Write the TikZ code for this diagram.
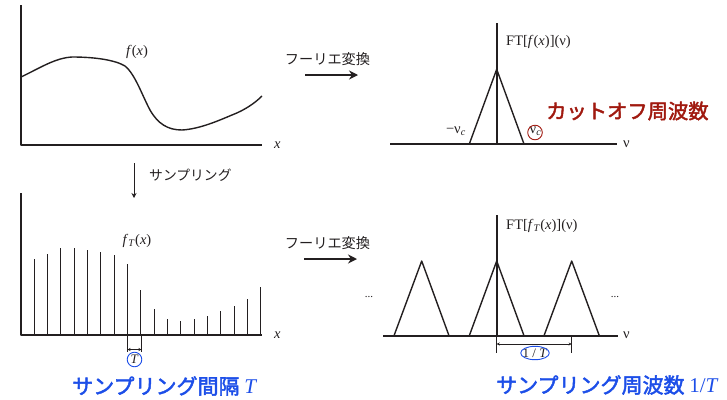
\documentclass[tikz,border=0pt]{standalone}
\usepackage{fontspec}
\setmainfont{Liberation Serif}
\newfontfamily\jp{Noto Sans CJK JP}
\newfontfamily\jpb[FakeBold=2.2]{Noto Sans CJK JP}
\usetikzlibrary{arrows.meta}
\definecolor{ink}{RGB}{35,31,32}
\definecolor{hiblue}{RGB}{28,78,232}
\definecolor{hired}{RGB}{160,25,15}
\tikzset{
  axis/.style={draw=ink, line width=1.6pt},
  curve/.style={draw=ink, line width=1.4pt},
  stem/.style={draw=ink, line width=1.3pt},
  tri/.style={draw=ink, line width=1.4pt},
  dim/.style={draw=ink, line width=0.8pt},
  dimarrow/.style={draw=ink, line width=0.8pt, {Stealth[length=3pt,width=3pt]}-{Stealth[length=3pt,width=3pt]}},
  ftarrow/.style={draw=ink, line width=1.8pt, -{Stealth[length=9pt,width=9pt]}},
  lbl/.style={text=ink, font=\fontsize{14.5}{17}\selectfont, inner sep=0pt},
  jlbl/.style={text=ink, font=\jp\fontsize{14.2}{17}\selectfont, inner sep=0pt},
  bigblue/.style={text=hiblue, font=\jpb\fontsize{21}{25}\selectfont, inner sep=0pt},
  bigred/.style={text=hired, font=\jpb\fontsize{20.3}{24}\selectfont, inner sep=0pt}
}
\begin{document}
\begin{tikzpicture}[x=1pt,y=-1pt, line join=round]
\useasboundingbox (0,0) rectangle (727,399);

% ---- top left: f(x)
\draw[axis] (21,5) -- (21,145) -- (262,145);
\node[lbl, anchor=west] (xa) at (274,145) {\textit{x}};
\draw[curve] (21,77) .. controls (40,68) and (55,58) .. (72,57)
  .. controls (95,57) and (115,60) .. (125,66)
  .. controls (135,74) and (142,95) .. (150,110)
  .. controls (158,124) and (168,130) .. (182,130)
  .. controls (200,129) and (220,120) .. (232,115)
  .. controls (245,110) and (255,103) .. (262,96);
\node[lbl] (fx) at (137,52) {\textit{f}(\textit{x})};

% ---- sampling arrow
\coordinate (sa) at (134,163);
\coordinate (sb) at (134,198);
\draw[draw=ink, line width=0.9pt, -{Stealth[length=5pt,width=5pt]}] (sa) -- (sb);
\node[jlbl, anchor=west, font=\jp\fontsize{13.8}{16}\selectfont] (samp) at (149,175) {サンプリング};

% ---- bottom left: f_T(x)
\draw[axis] (21,193) -- (21,335) -- (262,335);
\node[lbl, anchor=west] (xb) at (274,335) {\textit{x}};
\foreach \i/\t in {1/259.3,2/253.7,3/248.3,4/248.3,5/250,6/251.7,7/255,8/264.3,9/290,10/309.3,11/319.3,12/321.3,13/319.3,14/316,15/311,16/306,17/299,18/287.3}
  \draw[stem] ({floor(21+13.333*\i)+0.5},335) -- ({floor(21+13.333*\i)+0.5},\t);
\draw[stem] (21,335) -- (21,245);
\node[lbl] (fTx) at (137,241) {\textit{f}\textsubscript{\textit{T}}(\textit{x})};
% T bracket
\coordinate (ta) at (127.5,335);
\coordinate (tb) at (141.5,335);
\draw[dim] (ta) -- ++(0,17);
\draw[dim] (tb) -- ++(0,17);
\draw[dimarrow] (127.5,349.5) -- (141.5,349.5);
\node[lbl, font=\fontsize{13}{15}\selectfont] (Tl) at (134.5,359.5) {\textit{T}};
\draw[hiblue, line width=0.9pt] (134.5,359.5) circle (7.3);
\node[bigblue, anchor=west] (sint) at (72,386) {サンプリング間隔 {\fontspec{Liberation Serif}\itshape T}};

% ---- top right: spectrum
\coordinate (fa1) at (305,75);
\coordinate (fb1) at (358,75);
\draw[ftarrow] (fa1) -- (fb1);
\node[jlbl] (ft1) at (327.5,59) {フーリエ変換};
\draw[axis] (390,144) -- (617,144);
\draw[axis] (496.7,23) -- (496.7,144);
\node[lbl, anchor=west] (nu1) at (623,144) {ν};
\draw[tri] (469.3,144) -- (496.7,69.3) -- (524,144);
\node[lbl, anchor=west] (FT1) at (506,42) {FT[\textit{f}(\textit{x})](ν)};
\node[lbl, anchor=east] (mnc) at (466,131) {−ν\textsubscript{\textit{c}}};
\node[lbl] (nc) at (535.5,131) {ν\textsubscript{\textit{c}}};
\draw[hired, line width=0.9pt] (535,132.5) circle (7.3);
\node[bigred, anchor=west] (cut) at (546,111) {カットオフ周波数};

% ---- bottom right: sampled spectrum
\coordinate (fa2) at (304,259);
\coordinate (fb2) at (357,259);
\draw[ftarrow] (fa2) -- (fb2);
\node[jlbl] (ft2) at (327.5,243) {フーリエ変換};
\draw[axis] (383,335.7) -- (618,335.7);
\draw[axis] (496.7,215) -- (496.7,335.7);
\node[lbl, anchor=west] (nu2) at (623,335.7) {ν};
\draw[tri] (394,335.7) -- (421.7,261) -- (449,335.7);
\draw[tri] (469.3,335.7) -- (496.7,261) -- (524,335.7);
\draw[tri] (544,335.7) -- (571.7,261) -- (599.3,335.7);
\node[lbl, font=\fontsize{11}{13}\selectfont] (d1) at (369,297) {...};
\node[lbl, font=\fontsize{11}{13}\selectfont] (d2) at (615,297) {...};
\node[lbl, anchor=west] (FT2) at (506,226) {FT[\textit{f}\textsubscript{\textit{T}}(\textit{x})](ν)};
% 1/T bracket
\draw[dim] (496.7,335.7) -- (496.7,352.5);
\draw[dim] (571.7,335.7) -- (571.7,352.5);
\draw[dimarrow] (496.7,344) -- (571.7,344);
\node[lbl, font=\fontsize{13}{15}\selectfont] (oT) at (535,353) {1 / \textit{T}};
\draw[hiblue, line width=0.9pt] (535,353) ellipse (14.3 and 6.7);
\node[bigblue, anchor=west] (sfreq) at (496,385) {サンプリング周波数 {\fontspec{Liberation Serif}1/\textit{T}}};
\end{tikzpicture}
\end{document}
